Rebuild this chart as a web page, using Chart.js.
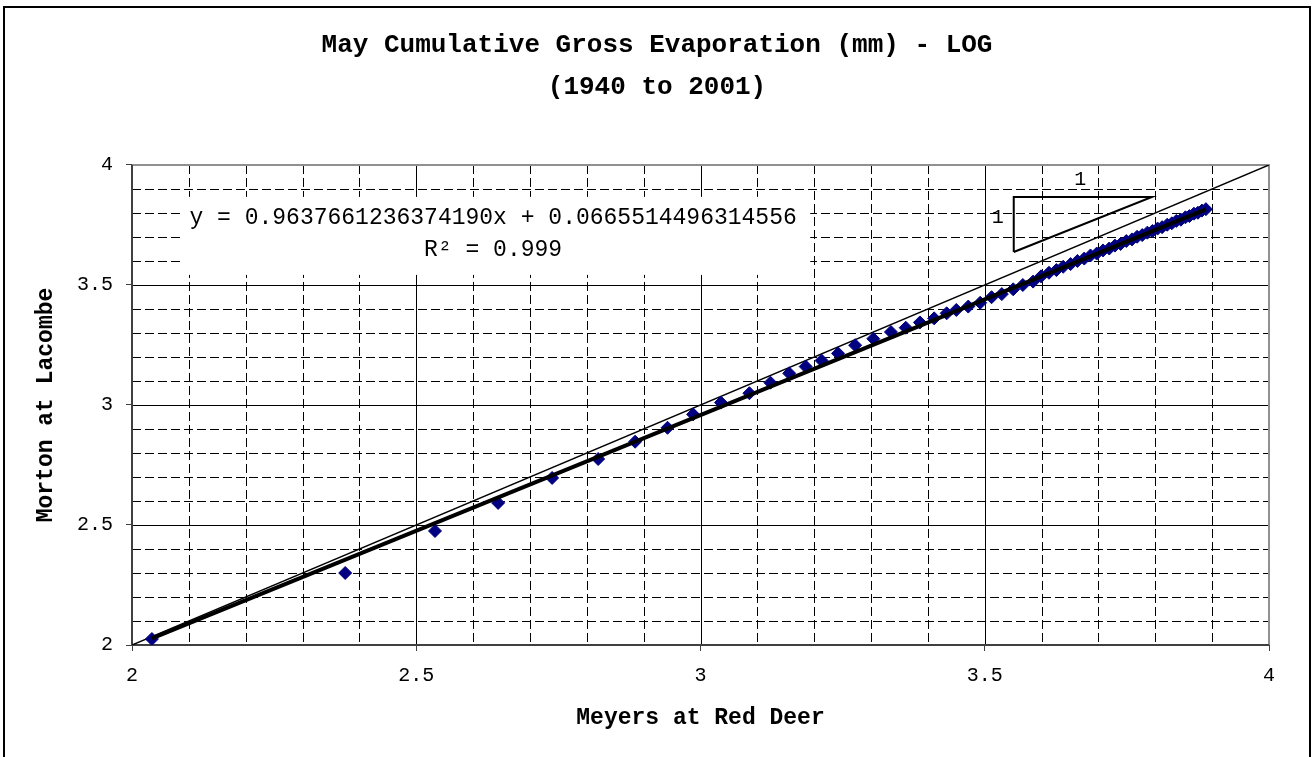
<!DOCTYPE html>
<html lang="en">
<head>
    <meta charset="UTF-8">
    <title>May Cumulative Gross Evaporation - LOG</title>
    <script src="https://cdn.jsdelivr.net/npm/chart.js"></script>
    <style>
        body { margin: 0; background: #fff; }
        canvas { display: block; }
    </style>
</head>
<body>
    <canvas id="myChart" width="1314" height="757"></canvas>

    <script>
        // log10 of cumulative May evaporation, Meyers (x) vs Morton (y)
        const meyersRedDeer = [
            2.035, 2.375, 2.533, 2.644, 2.739, 2.820, 2.885, 2.942, 2.987, 3.036,
            3.086, 3.123, 3.156, 3.185, 3.213, 3.242, 3.272, 3.304, 3.335, 3.361,
            3.386, 3.411, 3.433, 3.450, 3.471, 3.492, 3.512, 3.530, 3.550, 3.567,
            3.585, 3.599, 3.613, 3.626, 3.638, 3.651, 3.663, 3.675, 3.686, 3.697,
            3.708, 3.719, 3.729, 3.739, 3.749, 3.759, 3.768, 3.777, 3.786, 3.795,
            3.804, 3.812, 3.821, 3.829, 3.837, 3.845, 3.853, 3.860, 3.868, 3.875,
            3.882, 3.889
        ];
        const mortonLacombe = [
            2.025, 2.300, 2.475, 2.592, 2.696, 2.775, 2.847, 2.905, 2.961, 3.010,
            3.049, 3.093, 3.132, 3.160, 3.185, 3.215, 3.249, 3.276, 3.304, 3.322,
            3.344, 3.361, 3.382, 3.396, 3.410, 3.426, 3.449, 3.462, 3.482, 3.500,
            3.514, 3.536, 3.551, 3.562, 3.576, 3.587, 3.600, 3.610, 3.623, 3.631,
            3.644, 3.652, 3.664, 3.671, 3.683, 3.690, 3.701, 3.708, 3.718, 3.725,
            3.735, 3.741, 3.751, 3.757, 3.767, 3.772, 3.782, 3.787, 3.797, 3.801,
            3.810, 3.816
        ];

        // fitted line end points and the 1:1 reference line
        const trendX = [2.035, 3.889];
        const trendY = [2.028, 3.815];
        const unityX = [2, 4];
        const unityY = [2, 4];

        // little 1:1 slope triangle, top right
        const triX = [3.551, 3.551, 3.794, 3.551];
        const triY = [3.6375, 3.867, 3.867, 3.6375];

        const xTickLabels = ['2', '2.5', '3', '3.5', '4'];
        const yTickLabels = ['2', '2.5', '3', '3.5', '4'];

        const eqLine1 = 'y = 0.9637661236374190x + 0.0665514496314556';
        const eqLine2 = 'R\u00B2 = 0.999';

        const MONO = "'Liberation Mono', 'Courier New', monospace";

        const toPoints = (xs, ys) => xs.map((v, i) => ({ x: v, y: ys[i] }));

        // Excel style grid: dashed minor lines every 0.1, solid at every 0.5
        const excelGrid = {
            id: 'excelGrid',
            beforeDatasetsDraw(chart) {
                const { ctx, chartArea: a, scales: { x, y } } = chart;
                const px = v => Math.round(x.getPixelForValue(v)) + 0.5;
                const py = v => Math.round(y.getPixelForValue(v)) + 0.5;
                ctx.save();
                ctx.lineWidth = 1;
                ctx.strokeStyle = '#000';

                ctx.setLineDash([9, 4]);
                for (let i = 1; i < 20; i++) {
                    if (i % 5 === 0) continue;
                    const v = 2 + i / 10;
                    ctx.beginPath();
                    ctx.moveTo(px(v), a.top);
                    ctx.lineTo(px(v), a.bottom);
                    ctx.moveTo(a.left, py(v));
                    ctx.lineTo(a.right, py(v));
                    ctx.stroke();
                }

                ctx.setLineDash([]);
                for (let i = 5; i < 20; i += 5) {
                    const v = 2 + i / 10;
                    ctx.beginPath();
                    ctx.moveTo(px(v), a.top);
                    ctx.lineTo(px(v), a.bottom);
                    ctx.moveTo(a.left, py(v));
                    ctx.lineTo(a.right, py(v));
                    ctx.stroke();
                }

                // white box behind the trend equation
                const bx0 = x.getPixelForValue(2.088), bx1 = x.getPixelForValue(3.193);
                const by0 = y.getPixelForValue(3.867), by1 = y.getPixelForValue(3.542);
                ctx.fillStyle = '#fff';
                ctx.fillRect(bx0, by0, bx1 - bx0, by1 - by0);

                ctx.fillStyle = '#000';
                ctx.font = '23px ' + MONO;
                ctx.textAlign = 'center';
                ctx.textBaseline = 'middle';
                const cx = (bx0 + bx1) / 2 - 3;
                ctx.fillText(eqLine1, cx, y.getPixelForValue(3.78));
                ctx.fillText(eqLine2, cx, y.getPixelForValue(3.645));

                // labels of the slope triangle
                ctx.font = '20px ' + MONO;
                ctx.fillText('1', x.getPixelForValue(3.668), y.getPixelForValue(3.9375));
                ctx.fillText('1', x.getPixelForValue(3.523), y.getPixelForValue(3.779));

                // plot border: grey top/right, dark axes left/bottom
                ctx.lineWidth = 2;
                ctx.strokeStyle = '#909090';
                ctx.beginPath();
                ctx.moveTo(a.left, a.top);
                ctx.lineTo(a.right, a.top);
                ctx.lineTo(a.right, a.bottom);
                ctx.stroke();
                ctx.strokeStyle = '#404040';
                ctx.beginPath();
                ctx.moveTo(a.left, a.top);
                ctx.lineTo(a.left, a.bottom);
                ctx.lineTo(a.right, a.bottom);
                ctx.stroke();
                ctx.restore();
            },
            afterDraw(chart) {
                const ctx = chart.ctx;
                ctx.save();
                ctx.lineWidth = 2;
                ctx.strokeStyle = '#000';
                ctx.strokeRect(4, 7, 1306, 800);
                ctx.restore();
            }
        };

        const ctx = document.getElementById('myChart').getContext('2d');
        new Chart(ctx, {
            type: 'scatter',
            data: {
                datasets: [
                    {
                        label: 'Trend',
                        data: toPoints(trendX, trendY),
                        showLine: true,
                        borderColor: '#000',
                        borderWidth: 4,
                        pointRadius: 0,
                        order: 0
                    },
                    {
                        label: 'Morton vs Meyers',
                        data: toPoints(meyersRedDeer, mortonLacombe),
                        pointStyle: 'rectRot',
                        pointRadius: 6.5,
                        backgroundColor: '#000080',
                        borderColor: '#000080',
                        borderWidth: 1,
                        order: 1
                    },
                    {
                        label: '1:1',
                        data: toPoints(unityX, unityY),
                        showLine: true,
                        borderColor: '#000',
                        borderWidth: 1.5,
                        pointRadius: 0,
                        order: 2
                    },
                    {
                        label: 'Slope triangle',
                        data: toPoints(triX, triY),
                        showLine: true,
                        borderColor: '#000',
                        borderWidth: 2,
                        pointRadius: 0,
                        order: 2
                    }
                ]
            },
            options: {
                responsive: false,
                animation: false,
                devicePixelRatio: 1,
                layout: { padding: { top: 0, right: 45, bottom: 0, left: 45 } },
                scales: {
                    x: {
                        type: 'linear',
                        min: 2,
                        max: 4,
                        afterFit: s => { s.height = 112; },
                        ticks: {
                            stepSize: 0.5,
                            padding: 13,
                            color: '#000',
                            font: { family: MONO, size: 20 },
                            callback: (v, i) => xTickLabels[i]
                        },
                        grid: { drawOnChartArea: false, drawTicks: true, tickLength: 6, color: '#404040' },
                        border: { display: false },
                        title: {
                            display: true,
                            text: 'Meyers at Red Deer',
                            color: '#000',
                            font: { family: MONO, size: 23, weight: 'bold' },
                            padding: { top: 0, bottom: 25 }
                        }
                    },
                    y: {
                        type: 'linear',
                        min: 2,
                        max: 4,
                        afterFit: s => { s.width = 87; },
                        ticks: {
                            stepSize: 0.5,
                            padding: 13,
                            color: '#000',
                            font: { family: MONO, size: 20 },
                            callback: (v, i) => yTickLabels[i]
                        },
                        grid: { drawOnChartArea: false, drawTicks: true, tickLength: 6, color: '#404040' },
                        border: { display: false },
                        title: {
                            display: true,
                            text: 'Morton at Lacombe',
                            color: '#000',
                            font: { family: MONO, size: 23, weight: 'bold' },
                            padding: { top: -13, bottom: 0 }
                        }
                    }
                },
                plugins: {
                    legend: { display: false },
                    tooltip: { enabled: false },
                    title: {
                        display: true,
                        text: ['May Cumulative Gross Evaporation (mm) - LOG', '(1940 to 2001)'],
                        color: '#000',
                        font: { family: MONO, size: 26, weight: 'bold', lineHeight: 1.615 },
                        padding: { top: 24, bottom: 57 }
                    }
                }
            },
            plugins: [excelGrid]
        });
    </script>
</body>
</html>
